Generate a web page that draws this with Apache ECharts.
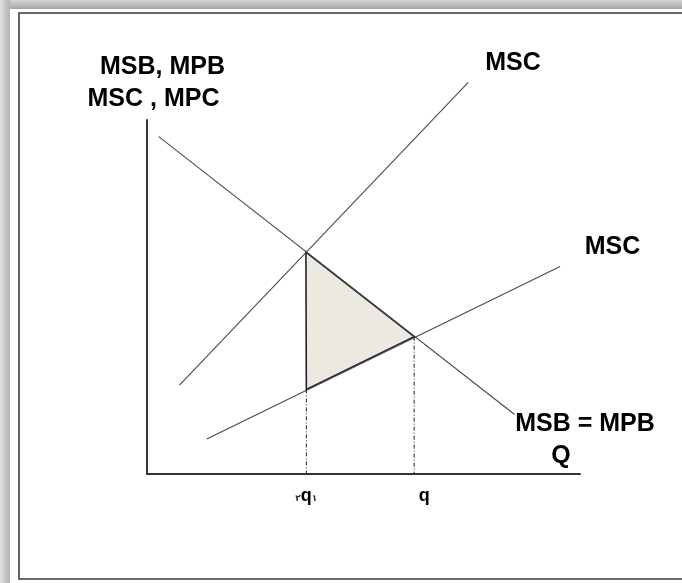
<!DOCTYPE html>
<html><head><meta charset="utf-8">
<script src="https://cdn.jsdelivr.net/npm/echarts@6/dist/echarts.min.js"></script>
<style>html,body{margin:0;padding:0;background:#fff}#c{width:682px;height:583px}</style>
</head><body><div id="c"></div>
<script>
// Curves (x: quantity 0-100, y: cost/benefit 0-100)
const demandMSB = [[2.7, 95.3], [84.9, 16.8]];      // MSB = MPB
const mscUpper = [[7.5, 25.1], [74.2, 110.6]];      // MSC (upper)
const mscLower = [[13.8, 9.9], [95.4, 58.6]];       // MSC (lower)
const lossTriangle = [[36.7, 62.7], [61.7, 38.8], [36.8, 23.9]];
const q1Drop = [[36.8, 23.9], [36.8, 0]];
const qDrop = [[61.7, 38.8], [61.7, 0]];
const qTicks = [36.8, 61.7];
const qTickLabels = ['q1', 'q'];

const FONT = '"Liberation Sans", Arial, "DejaVu Sans", sans-serif';
const chart = echarts.init(document.getElementById('c'), null, {renderer: 'canvas'});

function lineSeries(data, extra) {
  return Object.assign({
    type: 'line', data: data, symbol: 'none', silent: true, animation: false,
    lineStyle: {color: '#4a4a4a', width: 1.1}
  }, extra || {});
}

const option = {
  backgroundColor: '#fff',
  animation: false,
  grid: {left: 147, top: 120, right: 102, bottom: 109},
  xAxis: {
    type: 'value', min: 0, max: 100,
    axisLine: {show: true, lineStyle: {color: '#333', width: 2}},
    axisTick: {show: false}, splitLine: {show: false},
    axisLabel: {
      show: true, customValues: qTicks, margin: 13,
      formatter: function (v) {
        const i = qTicks.indexOf(v);
        const t = qTickLabels[i];
        if (t === 'q1') return '{d|\u0662}{q|q}{d|\u0661}';
        return '{qr|' + t + '}';
      },
      rich: {
        q: {fontSize: 18, fontWeight: 'bold', fontFamily: FONT, color: '#000'},
        qr: {fontSize: 18, fontWeight: 'bold', fontFamily: FONT, color: '#000', padding: [0, 0, 0, 20]},
        d: {fontSize: 9, fontWeight: 'bold', fontFamily: FONT, color: '#333', padding: [6, 0, 0, 0]}
      }
    }
  },
  yAxis: {
    type: 'value', min: 0, max: 100,
    axisLine: {show: true, lineStyle: {color: '#333', width: 2}},
    axisTick: {show: false}, splitLine: {show: false}, axisLabel: {show: false}
  },
  series: [
    lineSeries(demandMSB),
    lineSeries(mscUpper, {clip: false}),
    lineSeries(mscLower),
    lineSeries(q1Drop, {lineStyle: {color: '#222', width: 1, type: [4, 2, 1, 2]}}),
    lineSeries(qDrop, {lineStyle: {color: '#222', width: 1, type: [4, 2, 1, 2]}}),
    {
      type: 'custom', silent: true, animation: false,
      data: [0],
      renderItem: function (params, api) {
        const pts = lossTriangle.map(p => api.coord(p));
        return {
          type: 'polygon',
          shape: {points: pts},
          style: {fill: '#ECEAE0', stroke: '#222', lineWidth: 1.6}
        };
      }
    }
  ],
  graphic: [
    {type: 'rect', silent: true, shape: {x: 0, y: 0, width: 682, height: 9},
     style: {fill: new echarts.graphic.LinearGradient(0, 0, 0, 1, [{offset: 0, color: '#d6d6d6'}, {offset: 1, color: '#a6a6a6'}])}},
    {type: 'rect', silent: true, shape: {x: 0, y: 0, width: 10, height: 583},
     style: {fill: new echarts.graphic.LinearGradient(0, 0, 1, 0, [{offset: 0, color: '#e2e2e2'}, {offset: 1, color: '#b2b2b2'}])}},
    {type: 'rect', silent: true, shape: {x: 19, y: 13, width: 700, height: 566},
     style: {fill: null, stroke: '#3a3a3a', lineWidth: 1.6}},
    {type: 'text', silent: true, x: 162.5, y: 67.5, style: {text: 'MSB, MPB', font: 'bold 25px ' + FONT, fill: '#000', align: 'center', verticalAlign: 'middle'}},
    {type: 'text', silent: true, x: 153.5, y: 99, style: {text: 'MSC , MPC', font: 'bold 25px ' + FONT, fill: '#000', align: 'center', verticalAlign: 'middle'}},
    {type: 'text', silent: true, x: 513, y: 63, style: {text: 'MSC', font: 'bold 25px ' + FONT, fill: '#000', align: 'center', verticalAlign: 'middle'}},
    {type: 'text', silent: true, x: 612.5, y: 247.5, style: {text: 'MSC', font: 'bold 25px ' + FONT, fill: '#000', align: 'center', verticalAlign: 'middle'}},
    {type: 'text', silent: true, x: 585, y: 424, style: {text: 'MSB = MPB', font: 'bold 25px ' + FONT, fill: '#000', align: 'center', verticalAlign: 'middle'}},
    {type: 'text', silent: true, x: 561, y: 456, style: {text: 'Q', font: 'bold 25px ' + FONT, fill: '#000', align: 'center', verticalAlign: 'middle'}}
  ]
};
chart.setOption(option);
</script>
</body></html>
